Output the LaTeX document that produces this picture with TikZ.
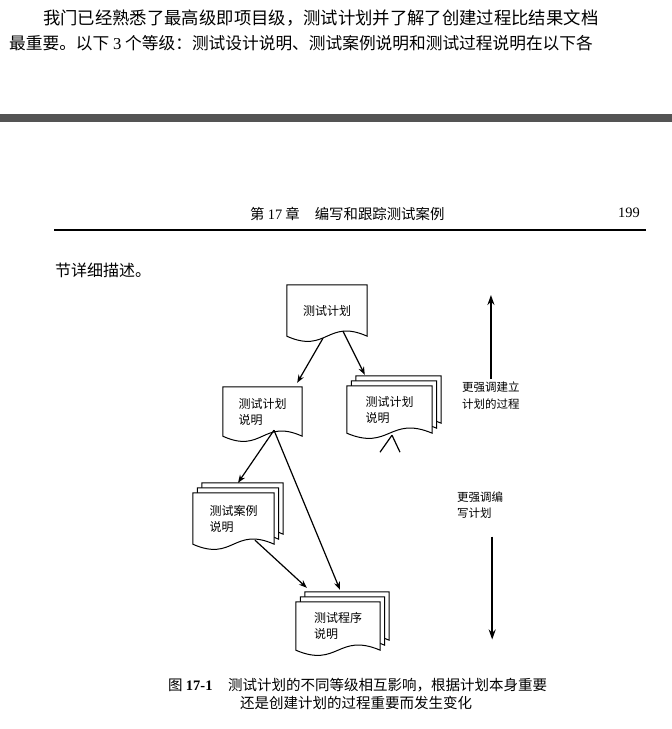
\documentclass[tikz,border=0pt]{standalone}
\usepackage{fontspec}
\setmainfont{Liberation Serif}
\newfontfamily\cjk{Noto Sans CJK SC}
\usepackage{tikz}
\usetikzlibrary{arrows.meta,calc,backgrounds}

\newcommand{\docpage}[2]{%
  \filldraw[sheet] ($(#1.north west)+(#2)$) -- ($(#1.south west)+(#2)$)
    .. controls ($(#1.south)+(#2)+(0,18)$) and ($(#1.south)+(#2)+(0,-18)$) .. ($(#1.south east)+(#2)$)
    -- ($(#1.north east)+(#2)$) -- cycle;}

\begin{document}
\begin{tikzpicture}[
  x=1pt, y=-1pt,
  every node/.style={inner sep=0pt, font=\cjk},
  body/.style={anchor=west, font=\cjk\fontsize{16.7}{20}\selectfont},
  doc/.style={align=left, font=\cjk\fontsize{12}{16}\selectfont},
  sheet/.style={draw, fill=white, line width=1pt},
  note/.style={anchor=west, align=left, font=\cjk\fontsize{11.5}{17}\selectfont},
  caption/.style={anchor=west, font=\cjk\fontsize{14.5}{18}\selectfont},
  arr/.style={-{Stealth[length=8pt,width=6pt]}, line width=1.2pt},
  bigarr/.style={-{Stealth[length=10pt,width=7pt]}, line width=1.8pt},
]
\useasboundingbox (0,0) rectangle (672,729);

\node[body, font=\cjk\fontsize{17.35}{20}\selectfont] (par1) at (43,18) {我门已经熟悉了最高级即项目级，测试计划并了解了创建过程比结果文档};
\node[body] (par2) at (9,43) {最重要。以下 {\rmfamily 3} 个等级：测试设计说明、测试案例说明和测试过程说明在以下各};
\fill[black!67] (0,114) rectangle (672,122);

\node[anchor=west, font=\cjk\fontsize{14.4}{16}\selectfont] (chap) at (250,214) {第 {\rmfamily 17} 章\hspace{15pt}编写和跟踪测试案例};
\node[anchor=east, font=\fontsize{14.4}{16}\selectfont] (pageno) at (640,213) {199};
\draw[line width=1.2pt] (54,230) -- (646,230);
\node[body, font=\cjk\fontsize{16}{20}\selectfont] (cont) at (55,270) {节详细描述。};

\node[doc, minimum width=80pt, minimum height=51pt] (plan) at (327,310.5) {测试计划};
\node[doc, minimum width=79pt, minimum height=49pt] (spec) at (262.5,411.5) {测试计划\\说明};
\node[doc, minimum width=85pt, minimum height=47pt] (specs) at (389.5,409.5) {测试计划\\说明};
\node[doc, minimum width=81pt, minimum height=51pt] (cases) at (233.5,518.5) {测试案例\\说明};
\node[doc, minimum width=84pt, minimum height=48pt] (proc) at (338,626) {测试程序\\说明};

\begin{pgfonlayer}{background}
  \docpage{plan}{0,0}
  \docpage{spec}{0,0}
  \foreach \n in {specs,cases,proc} {
    \docpage{\n}{9,-10}
    \docpage{\n}{4.5,-5}
    \docpage{\n}{0,0}
  }
\end{pgfonlayer}

\coordinate (fork) at ($(spec.south)+(11.5,-6)$);
\coordinate (tail) at ($(specs.south)+(2.5,2)$);
\draw[arr] ($(plan.south)+(-4,2)$) -- ($(spec.north east)+(-5,-4)$);
\draw[arr] ($(plan.south)+(16,-5)$) -- ($(specs.north west)+(18,-11)$);
\draw[arr] (fork) -- ($(cases.north)+(4.5,-10)$);
\draw[arr] (fork) -- ($(proc.north)+(2,-12)$);
\draw[arr] ($(cases.south)+(21.5,-4)$) -- ($(proc.north west)+(11,-14)$);
\draw[line width=1.2pt] (tail) -- ++(-12,17) (tail) -- ++(8,17);

\node[note] (emph1) at (462,396) {更强调建立\\计划的过程};
\node[note, font=\cjk\fontsize{11.5}{16}\selectfont] (emph2) at (457,505) {更强调编\\写计划};
\draw[bigarr] ($(emph1.north)+(0,-3)$) -- ++(0,-84);
\draw[bigarr] ($(emph2.south)+(12,18)$) -- ++(0,103);

\node[caption] (capnum) at (168,685) {图 {\rmfamily\bfseries 17-1}};
\node[caption] (cap1) at (228,685) {测试计划的不同等级相互影响，根据计划本身重要};
\node[caption] (cap2) at (240,703) {还是创建计划的过程重要而发生变化};
\end{tikzpicture}
\end{document}
